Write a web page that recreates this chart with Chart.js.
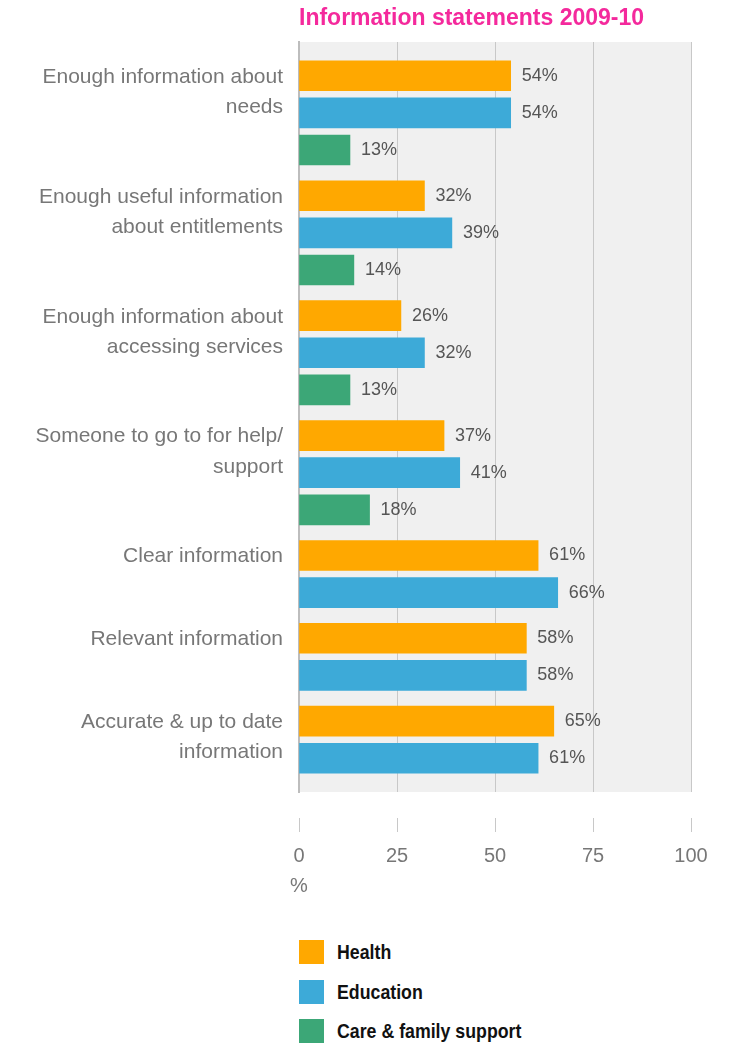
<!DOCTYPE html>
<html>
<head>
<meta charset="utf-8">
<script src="https://cdn.jsdelivr.net/npm/chart.js@4/dist/chart.umd.min.js"></script>
<style>
  body { margin: 0; background: #fff; overflow: hidden; }
  #wrap { position: relative; width: 733px; height: 1043px; }
  #box { position: absolute; left: 0; top: 0; width: 733px; height: 910px; }
  #legend { position: absolute; left: 299px; top: 940px; font: bold 21px "Liberation Sans", Arial, sans-serif; color: #111; }
  .item { display: flex; align-items: center; height: 24px; margin-bottom: 15.5px; }
  .sw { width: 25px; height: 24px; margin-right: 13px; flex: none; }
  .item span { display: inline-block; transform: scaleX(0.845); transform-origin: left center; white-space: nowrap; }
</style>
</head>
<body>
<div id="wrap">
  <div id="box"><canvas id="chart"></canvas></div>
  <div id="legend"></div>
</div>
<script>
const title = 'Information statements 2009-10';
const categories = [
  ['Enough information about', 'needs'],
  ['Enough useful information', 'about entitlements'],
  ['Enough information about', 'accessing services'],
  ['Someone to go to for help/', 'support'],
  ['Clear information'],
  ['Relevant information'],
  ['Accurate & up to date', 'information']
];
const seriesNames = ['Health', 'Education', 'Care & family support'];
const health = [54, 32, 26, 37, 61, 58, 65];
const education = [54, 39, 32, 41, 66, 58, 61];
const care = [13, 14, 13, 18, null, null, null];
const xTicks = [0, 25, 50, 75, 100];
const unitLabel = '%';

const colors = ['#ffa800', '#3daad8', '#3ca777'];
const font = '"Liberation Sans", "Helvetica Neue", Arial, sans-serif';
const GROUP_GAP = 0.23;   // extra space between groups, in row units

// lay bars out row by row; groups without a value just have fewer rows
const seriesValues = [health, education, care];
const rows = seriesValues.map(() => []);
const labelPos = [];
let row = 0;
categories.forEach((lines, g) => {
  let first = null;
  seriesValues.forEach((vals, s) => {
    if (vals[g] == null) return;
    const p = row + g * GROUP_GAP;
    if (first === null) first = p;
    rows[s].push({ x: vals[g], y: p });
    row++;
  });
  labelPos.push(first + 0.03 + (lines.length - 1) * 0.405);
});
const lastPos = row - 1 + (categories.length - 1) * GROUP_GAP;

const plotBg = {
  id: 'plotBg',
  beforeDraw(chart) {
    const a = chart.chartArea;
    chart.ctx.save();
    chart.ctx.fillStyle = '#f0f0f0';
    chart.ctx.fillRect(a.left, a.top, a.right - a.left, a.bottom - a.top);
    chart.ctx.restore();
  }
};

const headline = {
  id: 'headline',
  afterDraw(chart) {
    const ctx = chart.ctx;
    ctx.save();
    ctx.font = 'bold 23px ' + font;
    ctx.fillStyle = '#f4299c';
    ctx.textBaseline = 'middle';
    ctx.textAlign = 'left';
    ctx.fillText(title, chart.chartArea.left, 19);
    ctx.restore();
  }
};

const valueLabels = {
  id: 'valueLabels',
  afterDatasetsDraw(chart) {
    const ctx = chart.ctx;
    ctx.save();
    ctx.font = '18px ' + font;
    ctx.fillStyle = '#555';
    ctx.textBaseline = 'middle';
    ctx.textAlign = 'left';
    chart.data.datasets.forEach((ds, i) => {
      chart.getDatasetMeta(i).data.forEach((bar, j) => {
        ctx.fillText(ds.data[j].x + '%', bar.x + 11, bar.y);
      });
    });
    ctx.restore();
  }
};

new Chart(document.getElementById('chart'), {
  type: 'bar',
  data: {
    datasets: seriesNames.map((name, s) => ({
      label: name,
      data: rows[s],
      backgroundColor: colors[s],
      barThickness: 30,
      grouped: false
    }))
  },
  options: {
    indexAxis: 'y',
    responsive: true,
    maintainAspectRatio: false,
    animation: false,
    layout: { padding: { top: 42, right: 42, bottom: 0, left: 0 } },
    plugins: { legend: { display: false }, tooltip: { enabled: false } },
    scales: {
      x: {
        type: 'linear',
        min: 0,
        max: 100,
        afterBuildTicks: s => { s.ticks = xTicks.map(v => ({ value: v })); },
        afterFit: s => { s.height = 118; s.paddingLeft = 0; s.paddingRight = 0; },
        grid: {
          color: '#c8c8c8',
          tickColor: '#c8c8c8',
          tickLength: 40,
          tickBorderDash: [0, 26, 14, 100]
        },
        border: { display: false },
        ticks: {
          padding: 9,
          color: '#777',
          maxRotation: 0,
          font: { family: font, size: 20, lineHeight: 1.5 },
          callback: v => v === 0 ? [String(v), unitLabel] : String(v)
        }
      },
      y: {
        type: 'linear',
        reverse: true,
        offset: false,
        min: -0.91,
        max: lastPos + 0.91,
        z: 1,
        afterBuildTicks: s => { s.ticks = labelPos.map(v => ({ value: v })); },
        afterFit: s => { s.width = 299; s.paddingTop = 0; s.paddingBottom = 0; },
        grid: { display: false, drawTicks: false },
        border: { display: true, color: '#bdbdbd', width: 2 },
        ticks: {
          padding: 16,
          color: '#777',
          font: { family: font, size: 21, lineHeight: 1.43 },
          callback: (v, i) => categories[i]
        }
      }
    }
  },
  plugins: [plotBg, headline, valueLabels]
});

// legend
const legendEl = document.getElementById('legend');
seriesNames.forEach((name, s) => {
  const item = document.createElement('div');
  item.className = 'item';
  item.innerHTML = '<div class="sw" style="background:' + colors[s] + '"></div><span></span>';
  item.querySelector('span').textContent = name;
  legendEl.appendChild(item);
});
</script>
</body>
</html>
